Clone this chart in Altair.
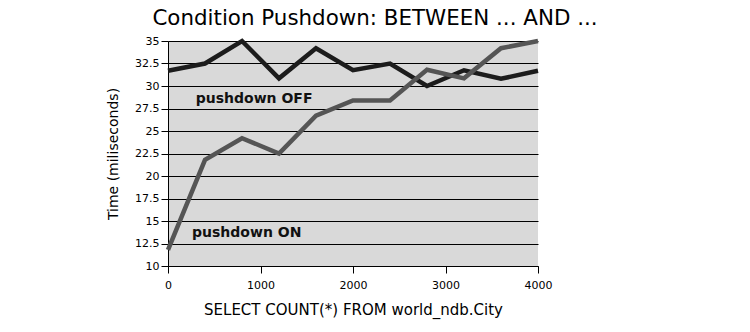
import altair as alt
import pandas as pd

x_vals = [0, 400, 800, 1200, 1600, 2000, 2400, 2800, 3200, 3600, 4000]
off_vals = [31.7, 32.5, 35.0, 30.85, 34.2, 31.75, 32.5, 30.0, 31.75, 30.8, 31.7]
on_vals = [11.8, 21.8, 24.2, 22.5, 26.7, 28.4, 28.4, 31.8, 30.85, 34.2, 35.0]
series_names = ["pushdown OFF", "pushdown ON"]
series_colors = ["#1c1c1c", "#555555"]
label_x = [300, 260]
label_y = [28.55, 13.67]
y_ticks = [10, 12.5, 15, 17.5, 20, 22.5, 25, 27.5, 30, 32.5, 35]
x_ticks = [0, 1000, 2000, 3000, 4000]

rows = []
for name, vals in zip(series_names, [off_vals, on_vals]):
    for xv, yv in zip(x_vals, vals):
        rows.append({"x": xv, "y": yv, "series": name})
df = pd.DataFrame(rows)
lab = pd.DataFrame({"x": label_x, "y": label_y, "text": series_names})

FONT = "DejaVu Sans"

xscale = alt.Scale(domain=[0, 4000], nice=False, zero=False)
yscale = alt.Scale(domain=[10, 35], nice=False, zero=False)

xaxis = alt.Axis(values=x_ticks, format="d", title="SELECT COUNT(*) FROM world_ndb.City",
                 grid=False, tickSize=7, labelPadding=6, titlePadding=12,
                 labelOverlap=False, labelFlush=False, titleFontSize=15)
yaxis = alt.Axis(values=y_ticks, format=".3~g", title="Time (miliseconds)",
                 grid=True, tickSize=7, labelPadding=2, titlePadding=14,
                 labelOverlap=False, labelFlush=False)

lines = alt.Chart(df).mark_line(strokeWidth=4.5, strokeJoin="miter", strokeCap="butt").encode(
    x=alt.X("x:Q", scale=xscale, axis=xaxis),
    y=alt.Y("y:Q", scale=yscale, axis=yaxis),
    color=alt.Color("series:N", scale=alt.Scale(domain=series_names, range=series_colors), legend=None),
    order=alt.Order("series:N"),
)

labels = alt.Chart(lab).mark_text(font=FONT, fontSize=14, fontWeight="bold", align="left",
                                  baseline="middle", color="#111111").encode(
    x=alt.X("x:Q", scale=xscale, axis=xaxis),
    y=alt.Y("y:Q", scale=yscale, axis=yaxis),
    text="text:N",
)

chart = alt.layer(lines, labels).properties(
    width=370, height=225,
    background="#ffffff",
    padding={"left": 168, "top": 41, "right": 212, "bottom": 66},
    autosize=alt.AutoSizeParams(type="none"),
    title=alt.TitleParams("Condition Pushdown: BETWEEN ... AND ...", font=FONT, fontSize=21.4,
                          fontWeight="normal", color="#000000", anchor="middle", dx=22, offset=3),
).configure_view(
    fill="#d9d9d9", strokeWidth=0,
).configure_axis(
    domainColor="#000000", tickColor="#000000", gridColor="#000000", gridOpacity=1,
    gridWidth=1, domainWidth=1, tickWidth=1,
    labelFont=FONT, labelFontSize=11, labelColor="#000000",
    titleFont=FONT, titleFontSize=14, titleFontWeight="normal", titleColor="#000000",
)

chart.save("out.html", embed_options={"renderer": "svg", "actions": False})
